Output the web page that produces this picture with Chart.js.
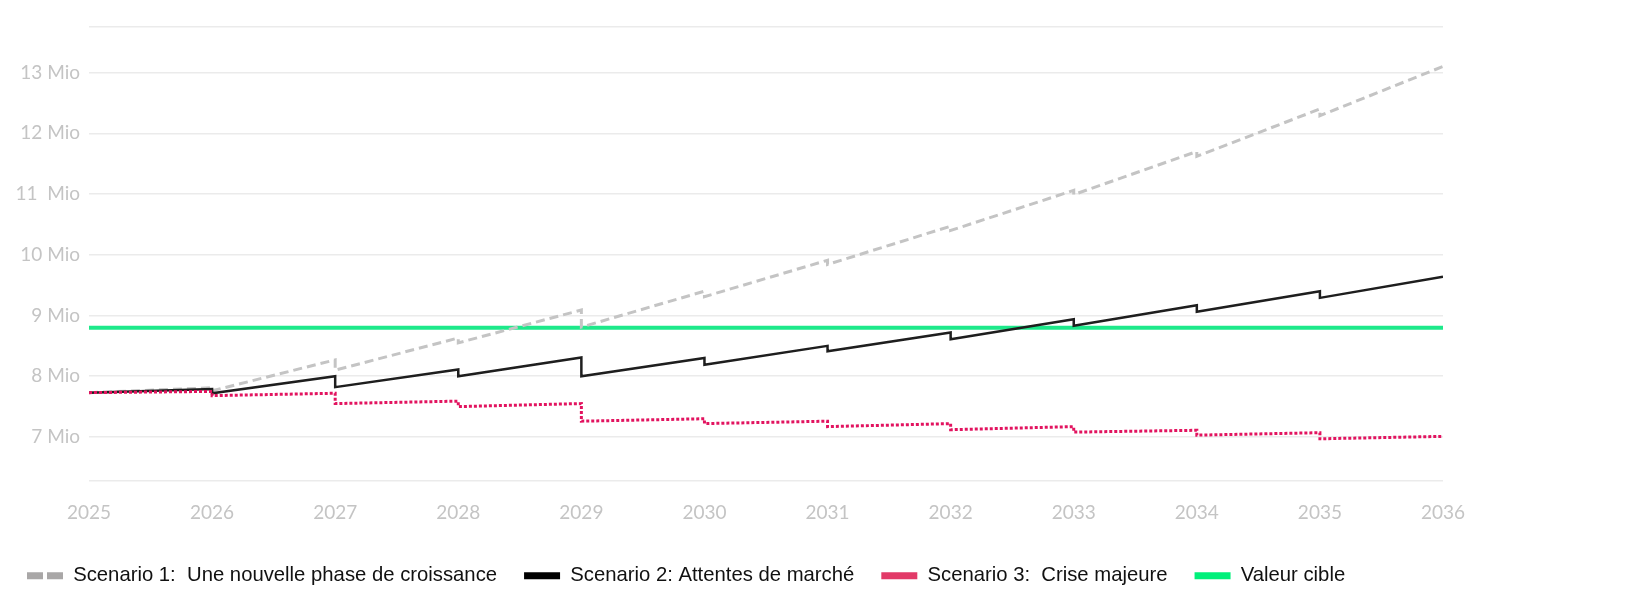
<!DOCTYPE html>
<html>
<head>
<meta charset="utf-8">
<script src="https://cdn.jsdelivr.net/npm/chart.js@4.4.1/dist/chart.umd.min.js"></script>
<style>
  html, body { margin: 0; padding: 0; background: #fff; }
  #wrap { width: 1648px; height: 615px; }
</style>
</head>
<body>
<div id="wrap"><canvas id="scenarioChart"></canvas></div>
<script>
// years 2025..2035: value at the start of each year and just before the next one
const years = [2025, 2026, 2027, 2028, 2029, 2030, 2031, 2032, 2033, 2034, 2035];

const scen1Start = [7.73, 7.76, 8.10, 8.55, 8.81, 9.31, 9.84, 10.40, 10.99, 11.62, 12.29];
const scen1End   = [7.81, 8.27, 8.63, 9.09, 9.40, 9.91, 10.47, 11.06, 11.70, 12.40, 13.10];

const scen2Start = [7.73, 7.72, 7.82, 8.00, 8.00, 8.19, 8.41, 8.61, 8.83, 9.06, 9.29];
const scen2End   = [7.79, 8.00, 8.11, 8.31, 8.30, 8.50, 8.72, 8.94, 9.17, 9.40, 9.64];

const scen3Start = [7.73, 7.68, 7.55, 7.50, 7.26, 7.22, 7.17, 7.12, 7.08, 7.03, 6.97];
const scen3End   = [7.75, 7.72, 7.59, 7.55, 7.30, 7.26, 7.22, 7.17, 7.11, 7.07, 7.01];

const targetValue = 8.8;

const xTicks = [2025, 2026, 2027, 2028, 2029, 2030, 2031, 2032, 2033, 2034, 2035, 2036];
const yTicks = [7, 8, 9, 10, 11, 12, 13];
const yTickLabels = ['7 Mio', '8 Mio', '9 Mio', '10 Mio', '11  Mio', '12 Mio', '13 Mio'];
const yMin = 6.28, yMax = 13.75;

const seriesNames = [
    'Scenario 1:  Une nouvelle phase de croissance',
    'Scenario 2: Attentes de marché',
    'Scenario 3:  Crise majeure',
    'Valeur cible'
];
const legendColors = ['#a9a7a7', '#000000', '#e23a68', '#00f07a'];

function sawtooth(start, end) {
    const pts = [];
    years.forEach((y, i) => {
        pts.push({x: y, y: start[i]});
        pts.push({x: y + 1, y: end[i]});
    });
    return pts;
}

const ctx = document.getElementById('scenarioChart').getContext('2d');

new Chart(ctx, {
    type: 'line',
    data: {
        datasets: [{
            label: seriesNames[0],
            data: sawtooth(scen1Start, scen1End),
            borderColor: '#c4c4c4',
            borderWidth: 3,
            borderDash: [9, 5],
            order: 3
        }, {
            label: seriesNames[1],
            data: sawtooth(scen2Start, scen2End),
            borderColor: '#1e1e1e',
            borderWidth: 2.5,
            order: 2
        }, {
            label: seriesNames[2],
            data: sawtooth(scen3Start, scen3End),
            borderColor: '#e2135f',
            borderWidth: 3,
            borderDash: [3, 2],
            order: 1
        }, {
            label: seriesNames[3],
            data: [{x: xTicks[0], y: targetValue}, {x: xTicks[xTicks.length - 1], y: targetValue}],
            borderColor: '#1de98a',
            borderWidth: 4,
            order: 4
        }]
    },
    options: {
        responsive: true,
        maintainAspectRatio: false,
        animation: false,
        events: [],
        elements: {
            point: {radius: 0},
            line: {tension: 0, borderCapStyle: 'butt'}
        },
        layout: {
            padding: {top: 27, right: 205, left: 0, bottom: 19}
        },
        plugins: {
            tooltip: {enabled: false},
            legend: {
                position: 'bottom',
                align: 'start',
                labels: {
                    boxWidth: 36,
                    boxHeight: 7,
                    padding: 27,
                    color: '#111',
                    font: {family: '"Liberation Sans", Arial, sans-serif', size: 20.3},
                    generateLabels(chart) {
                        return chart.data.datasets.map((ds, i) => ({
                            text: ds.label,
                            fillStyle: legendColors[i],
                            strokeStyle: legendColors[i],
                            lineWidth: 0,
                            fontColor: '#111',
                            datasetIndex: i
                        }));
                    }
                }
            }
        },
        scales: {
            x: {
                type: 'linear',
                min: xTicks[0],
                max: xTicks[xTicks.length - 1],
                afterBuildTicks(axis) {
                    axis.ticks = xTicks.map(v => ({value: v}));
                },
                afterFit(axis) { axis.height = 58; },
                ticks: {
                    color: '#c4c4c4',
                    padding: 13,
                    maxRotation: 0,
                    font: {family: 'Lato', size: 19},
                    callback: v => String(v)
                },
                grid: {display: false},
                border: {display: false}
            },
            y: {
                min: yMin,
                max: yMax,
                afterBuildTicks(axis) {
                    axis.ticks = [yMin, ...yTicks, yMax].map(v => ({value: v}));
                },
                afterFit(axis) { axis.width = 89; },
                ticks: {
                    color: '#c4c4c4',
                    padding: 9,
                    font: {family: 'Lato', size: 19},
                    callback(v) {
                        const i = yTicks.indexOf(v);
                        return i >= 0 ? yTickLabels[i] : '';
                    }
                },
                grid: {color: '#ebebeb', lineWidth: 1.5, drawTicks: false},
                border: {display: false}
            }
        }
    },
    plugins: [{
        id: 'dashedLegendBox',
        afterDraw(chart) {
            // split the first legend box in two, like a dash
            const box = chart.legend && chart.legend.legendHitBoxes[0];
            if (!box) return;
            const c = chart.ctx;
            c.save();
            c.fillStyle = '#fff';
            c.fillRect(box.left + 16, box.top, 4, box.height);
            c.restore();
        }
    }]
});
</script>
</body>
</html>
